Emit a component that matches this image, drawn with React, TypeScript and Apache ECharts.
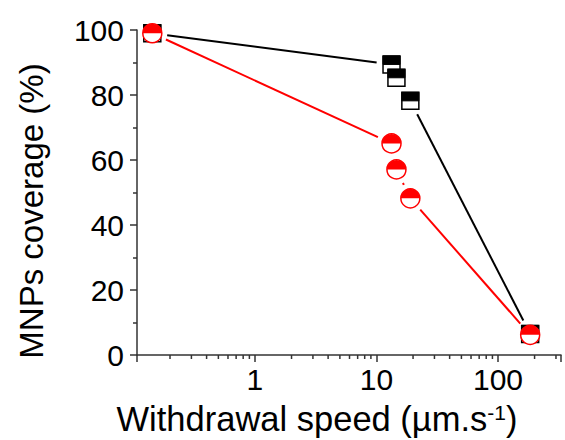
import React, { useEffect, useRef } from "react";
import * as echarts from "echarts";

const speedBlack = [0.143, 13.3, 14.6, 19, 184];
const coverBlack = [99, 89.4, 85.3, 78.2, 6.5];
const speedRed = [0.143, 13.3, 14.6, 19, 184];
const coverRed = [99, 65.1, 57.1, 48.2, 6.2];
const xMajorLabels = [1, 10, 100];
const xMinorTicks = [0.2, 0.3, 0.4, 0.5, 0.6, 0.7, 0.8, 0.9, 2, 3, 4, 5, 6, 7, 8, 9, 20, 30, 40, 50, 60, 70, 80, 90, 200, 300];
const yTicks = [0, 20, 40, 60, 80, 100];

const FONT = "Liberation Sans, Arial, sans-serif";
const RED = "#ff0000";
const AXIS = "#333333";
const GAP = 15;

function pairs(xs: number[], ys: number[]) {
  return xs.map((x, i) => [x, ys[i]]);
}

function lineSeries(xs: number[], ys: number[], color: string, z: number) {
  return {
    type: "custom",
    clip: false,
    z,
    data: pairs(xs, ys),
    encode: { x: 0, y: 1 },
    renderItem: (params: any, api: any) => {
      const i = params.dataIndex;
      if (i >= xs.length - 1) return { type: "group", children: [] };
      const p0 = api.coord([xs[i], ys[i]]);
      const p1 = api.coord([xs[i + 1], ys[i + 1]]);
      const dx = p1[0] - p0[0];
      const dy = p1[1] - p0[1];
      const d = Math.hypot(dx, dy);
      if (d <= 2 * GAP + 0.5) return { type: "group", children: [] };
      const ux = dx / d;
      const uy = dy / d;
      return {
        type: "line",
        shape: {
          x1: p0[0] + ux * GAP,
          y1: p0[1] + uy * GAP,
          x2: p1[0] - ux * GAP,
          y2: p1[1] - uy * GAP,
        },
        style: { stroke: color, lineWidth: 2 },
      };
    },
  };
}

function squareSeries(xs: number[], ys: number[], z: number) {
  const s = 17;
  return {
    type: "custom",
    clip: false,
    z,
    data: pairs(xs, ys),
    encode: { x: 0, y: 1 },
    renderItem: (params: any, api: any) => {
      const p = api.coord([api.value(0), api.value(1)]);
      return {
        type: "group",
        children: [
          {
            type: "rect",
            shape: { x: p[0] - s / 2, y: p[1] - s / 2, width: s, height: s },
            style: { fill: "#fff", stroke: "#000", lineWidth: 1.5 },
          },
          {
            type: "rect",
            shape: { x: p[0] - s / 2, y: p[1] - s / 2, width: s, height: s / 2 },
            style: { fill: "#000", stroke: "#000", lineWidth: 1 },
          },
        ],
      };
    },
  };
}

function circleSeries(xs: number[], ys: number[], z: number) {
  const r = 9.5;
  return {
    type: "custom",
    clip: false,
    z,
    data: pairs(xs, ys),
    encode: { x: 0, y: 1 },
    renderItem: (params: any, api: any) => {
      const p = api.coord([api.value(0), api.value(1)]);
      return {
        type: "group",
        children: [
          {
            type: "circle",
            shape: { cx: p[0], cy: p[1], r },
            style: { fill: "#fff", stroke: RED, lineWidth: 1.5 },
          },
          {
            type: "sector",
            shape: { cx: p[0], cy: p[1], r0: 0, r, startAngle: Math.PI, endAngle: 2 * Math.PI, clockwise: true },
            style: { fill: RED },
          },
        ],
      };
    },
  };
}

export default function App() {
  const ref = useRef<HTMLDivElement>(null);
  useEffect(() => {
    if (!ref.current) return;
    const chart = echarts.init(ref.current, null, { renderer: "svg" });
    chart.setOption({
      animation: false,
      backgroundColor: "#ffffff",
      grid: { left: 137, right: 4, top: 30, bottom: 85, containLabel: false },
      xAxis: {
        type: "log",
        logBase: 10,
        min: 0.107,
        max: 330,
        axisLine: { show: true, lineStyle: { color: AXIS, width: 1.5 } },
        axisTick: { show: true, inside: false, length: 7, lineStyle: { color: AXIS, width: 1.5 } },
        splitLine: { show: false },
        axisLabel: {
          margin: 9,
          color: "#000",
          fontSize: 30,
          fontFamily: FONT,
          formatter: (v: number) => {
            const m = xMajorLabels.find((t) => Math.abs(t - v) / t < 1e-6);
            return m !== undefined ? String(m) : "";
          },
        },
      },
      yAxis: {
        type: "value",
        min: yTicks[0],
        max: yTicks[yTicks.length - 1],
        interval: 20,
        axisLine: { show: true, lineStyle: { color: AXIS, width: 1.5 } },
        axisTick: { show: true, inside: false, length: 7, lineStyle: { color: AXIS, width: 1.5 } },
        minorTick: { show: true, splitNumber: 2, length: 4, lineStyle: { color: AXIS, width: 1.5 } },
        splitLine: { show: false },
        axisLabel: { margin: 13, color: "#000", fontSize: 30, fontFamily: FONT },
      },
      graphic: [
        {
          type: "text",
          x: 317,
          y: 419,
          style: {
            text: "Withdrawal speed (µm.s{sup|-1})",
            font: `34.5px ${FONT}`,
            fill: "#000",
            textAlign: "center",
            textVerticalAlign: "middle",
            rich: {
              sup: { fontSize: 21, fontFamily: FONT, verticalAlign: "top", fill: "#000" },
            },
          },
        },
        {
          type: "text",
          x: 31,
          y: 211,
          rotation: Math.PI / 2,
          style: {
            text: "MNPs coverage (%)",
            font: `33px ${FONT}`,
            fill: "#000",
            textAlign: "center",
            textVerticalAlign: "middle",
          },
        },
      ],
      series: [
        {
          type: "custom",
          clip: false,
          z: 1,
          data: xMinorTicks.map((v) => [v, 0]),
          encode: { x: 0, y: 1 },
          renderItem: (params: any, api: any) => {
            const p = api.coord([api.value(0), 0]);
            return {
              type: "line",
              shape: { x1: p[0], y1: p[1], x2: p[0], y2: p[1] + 4 },
              style: { stroke: AXIS, lineWidth: 1.5 },
            };
          },
        },
        lineSeries(speedBlack, coverBlack, "#000", 2),
        squareSeries(speedBlack, coverBlack, 3),
        lineSeries(speedRed, coverRed, RED, 4),
        circleSeries(speedRed, coverRed, 5),
      ],
    });
    return () => chart.dispose();
  }, []);
  return <div ref={ref} style={{ position: "fixed", left: 0, top: 0, width: 565, height: 440 }} />;
}
